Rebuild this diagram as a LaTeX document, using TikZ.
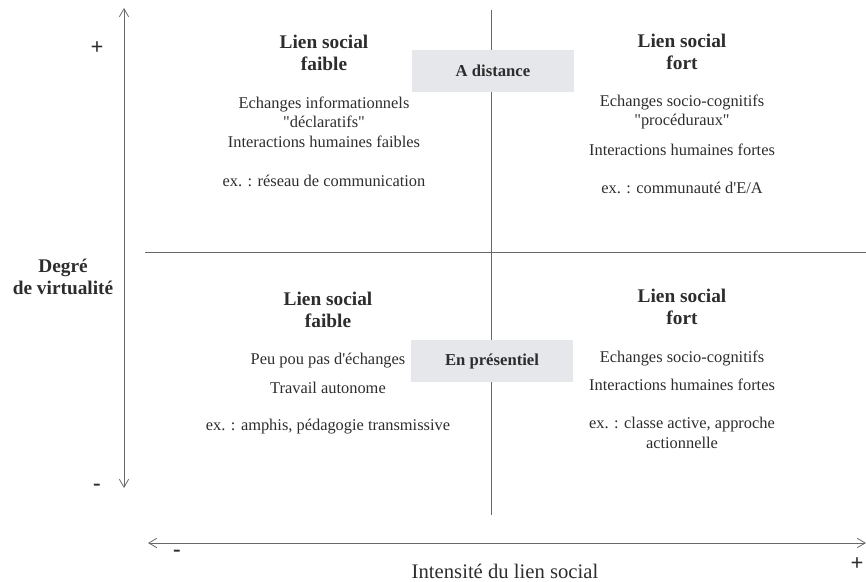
\documentclass[tikz,border=0pt]{standalone}
\usepackage{fontspec}
\setmainfont{Liberation Serif}
\usetikzlibrary{arrows.meta}
\definecolor{axisgray}{RGB}{105,105,105}
\definecolor{txtgray}{RGB}{45,45,45}
\definecolor{boxgray}{RGB}{230,231,234}

\begin{document}
\begin{tikzpicture}[x=0.75pt,y=0.75pt,yscale=-1,xscale=1,
    title/.style={font=\bfseries\fontsize{14.5}{16.5}\selectfont, text=txtgray, align=center, inner sep=0.75pt},
    body/.style={font=\fontsize{12.3}{14.6}\selectfont, text=txtgray, align=center, inner sep=0.75pt},
    sign/.style={font=\bfseries\fontsize{17}{18}\selectfont, text=txtgray, inner sep=0.75pt},
    modebox/.style={fill=boxgray, minimum width=122pt, minimum height=31.5pt, inner sep=0pt, font=\bfseries\fontsize{12.5}{14}\selectfont, text=txtgray},
    axis/.style={draw=axisgray, line width=0.6pt, {Straight Barb[length=6pt,width=7pt]}-{Straight Barb[length=6pt,width=7pt]}},
    divider/.style={draw=axisgray, line width=0.6pt}]
        \useasboundingbox (0,0) rectangle (866,581);

        %Axis coordinates
        \coordinate (vtop) at (124,8);
        \coordinate (vbot) at (124,488);
        \coordinate (hleft) at (148,543);
        \coordinate (hright) at (866,543);
        \coordinate (dtop) at (491,10);
        \coordinate (dbot) at (491,515);
        \coordinate (dleft) at (145,252);
        \coordinate (dright) at (866,252);

        %Straight Lines (axes)
        \draw [axis] (vtop) -- (vbot);
        \draw [axis] (hleft) -- (hright);
        %Straight Lines (quadrants)
        \draw [divider] (dtop) -- (dbot);
        \draw [divider] (dleft) -- (dright);

        %Shape: Rectangle
        \node [modebox] (distance) at (493,71) {A distance};
        \node [modebox] (presentiel) at (492,361) {En présentiel};

        % Text Node (axis labels)
        \node [sign] (vplus) at (97,48) {+};
        \node [sign] (vminus) at (97,487) {-};
        \node [title] (virtu) at (63,277) {Degré\\de virtualité};
        \node [sign] (hminus) at (177,553) {-};
        \node [sign] (hplus) at (857,564) {+};
        \node [title, font=\fontsize{15.5}{17}\selectfont] (intens) at (505,571) {Intensité du lien social};

        % Text Node (top left)
        \node [title] (tltitle) at (324,53) {Lien social\\faible};
        \node [body] (tltext) at (324,122) {Echanges informationnels\\\textquotedbl déclaratifs\textquotedbl\\Interactions humaines faibles};
        \node [body] (tlex) at (324,181) {ex. : réseau de communication};

        % Text Node (top right)
        \node [title] (trtitle) at (682,52) {Lien social\\fort};
        \node [body] (trtext) at (682,112) {Echanges socio-cognitifs\\\textquotedbl procéduraux\textquotedbl};
        \node [body] (trinter) at (682,150) {Interactions humaines fortes};
        \node [body] (trex) at (682,188) {ex. : communauté d\textquotesingle E/A};

        % Text Node (bottom left)
        \node [title] (bltitle) at (328,310) {Lien social\\faible};
        \node [body] (blpeu) at (328,361) {Peu pou pas d\textquotesingle échanges};
        \node [body] (bltrav) at (328,388) {Travail autonome};
        \node [body] (blex) at (328,427) {ex. : amphis, pédagogie transmissive};

        % Text Node (bottom right)
        \node [title] (brtitle) at (682,307) {Lien social\\fort};
        \node [body] (brech) at (682,358) {Echanges socio-cognitifs};
        \node [body] (brinter) at (682,385) {Interactions humaines fortes};
        \node [body] (brex) at (682,433) {ex. : classe active, approche\\actionnelle};

\end{tikzpicture}
\end{document}
